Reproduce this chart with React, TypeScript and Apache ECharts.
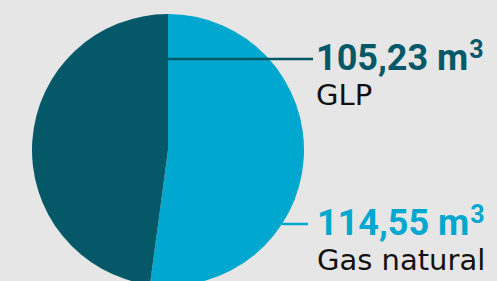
import React, { useEffect, useRef } from "react";
import * as echarts from "echarts";

const categories = ["Gas natural", "GLP"];
const values = [114.55, 105.23];
const valueLabels = ["114,55", "105,23"];
const unit = "m";
const unitSup = "3";
const colors = ["#00a8cf", "#055868"];

const VFONT = "Roboto, sans-serif";
const NFONT = "'DejaVu Sans', sans-serif";

function measure(text: string, font: string): number {
  const c = document.createElement("canvas");
  const ctx = c.getContext("2d")!;
  ctx.font = font;
  return ctx.measureText(text).width;
}

export default function App() {
  const ref = useRef<HTMLDivElement>(null);
  useEffect(() => {
    document.body.style.margin = "0";
    const chart = echarts.init(ref.current!, undefined, { renderer: "svg" });
    const vSize = 36;
    const sSize = 25;
    const nSize = 29;
    const labelText = (i: number, x: number, yVal: number, yName: number) => {
      const main = `${valueLabels[i]} ${unit}`;
      const w = measure(main, `700 ${vSize}px ${VFONT}`);
      return [
        {
          type: "text",
          z: 100,
          x,
          y: yVal,
          style: { text: main, fontSize: vSize, fontWeight: 700, fontFamily: VFONT, fill: colors[i], verticalAlign: "middle", align: "left" },
        },
        {
          type: "text",
          z: 100,
          x: x + w + 1,
          y: yVal - 9,
          style: { text: unitSup, fontSize: sSize, fontWeight: 700, fontFamily: VFONT, fill: colors[i], verticalAlign: "middle", align: "left" },
        },
        {
          type: "text",
          z: 100,
          x,
          y: yName,
          style: { text: categories[i], fontSize: nSize, fontFamily: NFONT, fill: "#111111", verticalAlign: "middle", align: "left" },
        },
      ];
    };
    chart.setOption({
      animation: false,
      backgroundColor: "#e6e6e6",
      series: [
        {
          type: "pie",
          center: [168, 150],
          radius: 136,
          startAngle: 90,
          clockwise: true,
          label: { show: false },
          labelLine: { show: false },
          silent: true,
          data: categories.map((c, i) => ({ name: c, value: values[i], itemStyle: { color: colors[i] } })),
        },
      ],
      graphic: [
        { type: "line", z: 100, shape: { x1: 167, y1: 59, x2: 313, y2: 59 }, style: { stroke: colors[1], lineWidth: 2.5 } },
        { type: "line", z: 100, shape: { x1: 282, y1: 224, x2: 308, y2: 224 }, style: { stroke: colors[0], lineWidth: 2.5 } },
        ...labelText(1, 316, 58, 95),
        ...labelText(0, 317, 223, 260),
      ],
    });
    return () => chart.dispose();
  }, []);
  return <div ref={ref} style={{ width: 497, height: 281, position: "absolute", left: 0, top: 0 }} />;
}
